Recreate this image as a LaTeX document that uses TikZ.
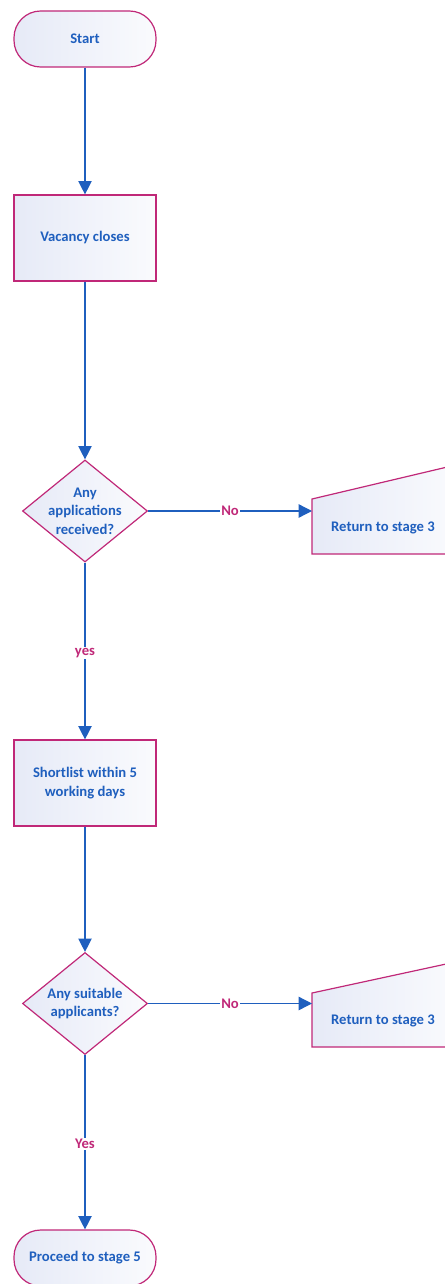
\documentclass[tikz,border=0pt]{standalone}
\usepackage{fontspec}
\setmainfont{Carlito}
\usetikzlibrary{shapes.geometric,arrows.meta}
\definecolor{flowblue}{RGB}{31,95,190}
\definecolor{flowpink}{RGB}{192,40,120}
\definecolor{flowfill}{RGB}{230,234,247}
\begin{document}
\begin{tikzpicture}[x=0.75pt,y=-0.75pt,
	shade box/.style={draw=flowpink, line width=0.9pt, left color=flowfill, right color=white!80!flowfill},
	box/.style={shade box, text=flowblue, font=\fontsize{11}{14.5}\selectfont\bfseries, align=center, minimum width=106.5pt, minimum height=64.5pt},
	terminal/.style={box, minimum height=42pt, rounded corners=20pt},
	decision/.style={shade box, diamond, minimum width=93.75pt, minimum height=76.5pt, inner sep=0pt},
	dectext/.style={text=flowblue, font=\fontsize{11}{14}\selectfont\bfseries, align=center},
	flow/.style={flowblue, line width=1pt, -{Triangle[length=10pt,width=10pt]}},
	answer/.style={text=flowpink, fill=white, inner sep=1pt, font=\fontsize{11}{13.5}\selectfont\bfseries}]
	\clip (0,0) rectangle (445,1284);
	\node[terminal] (start) at (85,39) {Start};
	\node[box] (vacancy) at (85,238) {Vacancy closes};
	\node[decision] (anyapp) at (85,511) {};
	\node[dectext] (anyapptext) at (anyapp) {Any\\applications\\received?};
	\node[box] (shortlist) at (85,783) {Shortlist within 5\\working days};
	\node[decision] (anysuit) at (85,1003.5) {};
	\node[dectext] (anysuittext) at (anysuit) {Any suitable\\applicants?};
	\node[terminal] (proceed) at (85,1258) {Proceed to stage 5};
	\draw[shade box] (312,554) -- (312,499) -- (460,464) -- (460,554) -- cycle;
	\node[dectext] (return1) at (383,528) {Return to stage 3};
	\coordinate (return1in) at (312,511);
	\draw[shade box] (312,1047) -- (312,993) -- (460,961) -- (460,1047) -- cycle;
	\node[dectext] (return2) at (383,1021) {Return to stage 3};
	\coordinate (return2in) at (312,1003.5);
	\draw[flow] (start) -- (vacancy);
	\draw[flow] (vacancy) -- (anyapp);
	\draw[flow] (anyapp) -- node[answer] (no1) {No} (return1in);
	\draw[flow] (anyapp) -- node[answer, pos=0.51] (yes1) {yes} (shortlist);
	\draw[flow] (shortlist) -- (anysuit);
	\draw[flow] (anysuit) -- node[answer] (no2) {No} (return2in);
	\draw[flow] (anysuit) -- node[answer, pos=0.51] (yes2) {Yes} (proceed);
\end{tikzpicture}
\end{document}
